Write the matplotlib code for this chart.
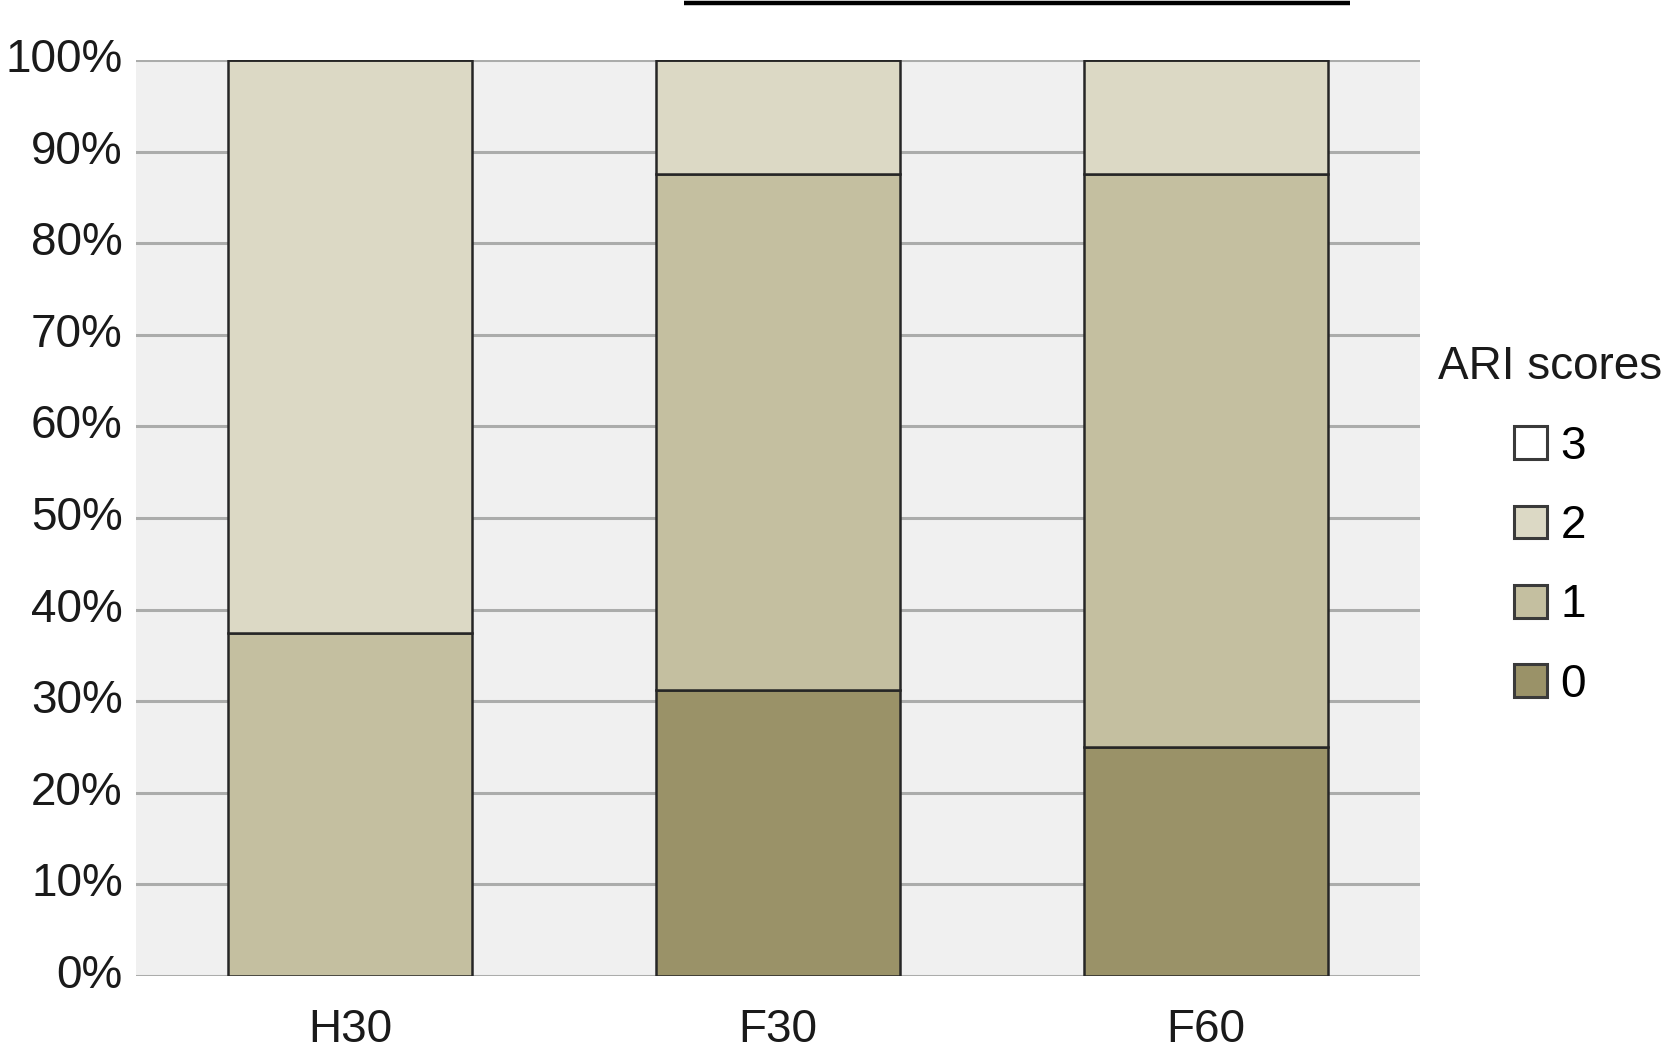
import matplotlib.pyplot as plt
from matplotlib.patches import Patch

plt.rcParams['font.family'] = ['Liberation Sans', 'DejaVu Sans']

# data (percent of subjects per ARI score)
groups = ['H30', 'F30', 'F60']
score0 = [0.0, 31.25, 25.0]
score1 = [37.5, 56.25, 62.5]
score2 = [62.5, 12.5, 12.5]
score3 = [0.0, 0.0, 0.0]
yticks = [0, 10, 20, 30, 40, 50, 60, 70, 80, 90, 100]
bracket_x = [0.78, 2.335]
bracket_y = 106.2

colors = {'0': '#9a9268', '1': '#c4bfa0', '2': '#dcd9c5', '3': '#ffffff'}


def main():
    fig = plt.figure(figsize=(16.67, 10.52), dpi=100)
    ax = fig.add_axes([0.0816, 0.0722, 0.7704, 0.8708])
    ax.set_facecolor('#f0f0f0')

    x = list(range(len(groups)))
    w = 0.57
    bottom = [0.0] * len(groups)
    for key, vals in [('0', score0), ('1', score1), ('2', score2), ('3', score3)]:
        ax.bar(x, vals, w, bottom=bottom, color=colors[key],
               edgecolor='#262626', linewidth=1.8, zorder=3)
        bottom = [b + v for b, v in zip(bottom, vals)]

    ax.set_xlim(-0.5, 2.5)
    ax.set_ylim(0, 100)
    ax.set_yticks(yticks)
    ax.set_yticklabels([str(t) + '%' for t in yticks])
    ax.set_xticks(x)
    ax.set_xticklabels(groups)
    ax.tick_params(axis='both', length=0, labelsize=33, colors='#1a1a1a')
    ax.tick_params(axis='y', pad=9.5)
    ax.tick_params(axis='x', pad=23)
    for t in ax.get_yticklabels():
        t.set_verticalalignment('center')
    for s in ax.spines.values():
        s.set_visible(False)
    ax.yaxis.grid(True, color='#abacab', linewidth=2.2, zorder=1)
    ax.set_axisbelow(True)

    # significance bracket (cut off at top)
    ax.plot(bracket_x, [bracket_y, bracket_y], color='black', linewidth=3.2,
            clip_on=False, solid_capstyle='butt')

    handles = [Patch(facecolor=colors[k], edgecolor='#3a3a3a', linewidth=2.2)
               for k in ['3', '2', '1', '0']]
    leg = fig.legend(handles, ['3', '2', '1', '0'], title='ARI scores',
                     loc='center', bbox_to_anchor=(1550 / 1667, 1 - 526 / 1052),
                     frameon=False, fontsize=33, title_fontsize=33,
                     handlelength=0.72, handleheight=0.72, handletextpad=0.3,
                     labelspacing=0.77, borderpad=0)
    leg.get_title().set_color('#1a1a1a')

    fig.savefig('out.png', dpi=100)


if __name__ == "__main__":
    main()
